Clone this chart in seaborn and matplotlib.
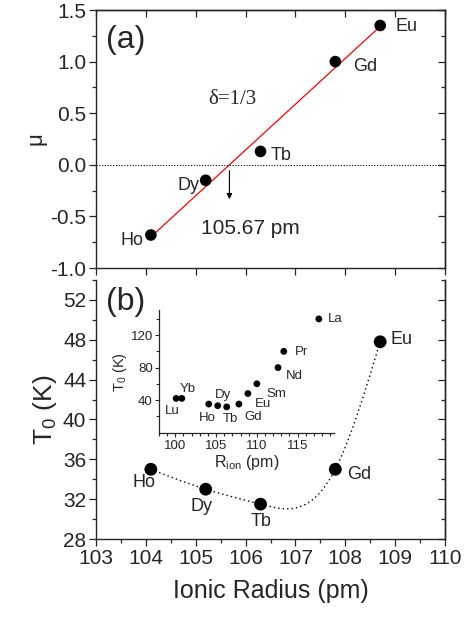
import numpy as np
import pandas as pd
import matplotlib
matplotlib.use("Agg")
import matplotlib.pyplot as plt
import seaborn as sns

# main panels: Ho, Dy, Tb, Gd, Eu
elements = ["Ho", "Dy", "Tb", "Gd", "Eu"]
radius = [104.1, 105.2, 106.3, 107.8, 108.7]
mu = [-0.68, -0.15, 0.13, 1.0, 1.35]
t0 = [35.0, 33.0, 31.5, 35.0, 47.8]
crossing_label = "105.67 pm"

# inset: wider series of rare earths
inset_elements = ["Lu", "Yb", "Ho", "Dy", "Tb", "Gd", "Eu", "Sm", "Nd", "Pr", "La"]
inset_radius = [100.1, 100.8, 104.1, 105.2, 106.3, 107.8, 108.9, 110.0, 112.6, 113.3, 117.6]
inset_t0 = [42, 42, 35, 33, 31.5, 35, 48, 60, 80, 100, 140]


def natural_spline(x, y, n=300):
    """Natural cubic spline through the points, used only for the guide line."""
    x = np.asarray(x, float)
    y = np.asarray(y, float)
    k = len(x)
    h = np.diff(x)
    A = np.zeros((k, k))
    b = np.zeros(k)
    A[0, 0] = A[-1, -1] = 1
    for i in range(1, k - 1):
        A[i, i - 1] = h[i - 1]
        A[i, i] = 2 * (h[i - 1] + h[i])
        A[i, i + 1] = h[i]
        b[i] = 3 * ((y[i + 1] - y[i]) / h[i] - (y[i] - y[i - 1]) / h[i - 1])
    c = np.linalg.solve(A, b)
    xs = np.linspace(x[0], x[-1], n)
    idx = np.clip(np.searchsorted(x, xs) - 1, 0, k - 2)
    dx = xs - x[idx]
    bb = (y[idx + 1] - y[idx]) / h[idx] - h[idx] * (2 * c[idx] + c[idx + 1]) / 3
    dd = (c[idx + 1] - c[idx]) / (3 * h[idx])
    ys = y[idx] + bb * dx + c[idx] * dx ** 2 + dd * dx ** 3
    return xs, ys


sns.set_style("ticks")
plt.rcParams["font.family"] = ["Liberation Sans", "DejaVu Sans"]
plt.rcParams["mathtext.default"] = "regular"

df = pd.DataFrame({"el": elements, "r": radius, "mu": mu, "t0": t0})
df_in = pd.DataFrame({"el": inset_elements, "r": inset_radius, "t0": inset_t0})

fig = plt.figure(figsize=(4.72, 6.18), dpi=100)
ax1 = fig.add_axes([0.2034, 0.5663, 0.7394, 0.4175])
ax2 = fig.add_axes([0.2034, 0.1278, 0.7394, 0.4191])
axi = fig.add_axes([0.3369, 0.2989, 0.3714, 0.1995])

# ---- panel (a)
slope, icpt = np.polyfit(df["r"], df["mu"], 1)
x0 = -icpt / slope
fit = pd.DataFrame({"r": [df["r"].min(), df["r"].max()]})
fit["mu"] = slope * fit["r"] + icpt
ax1.axhline(0, color="black", lw=0.8, ls=(0, (1, 1.5)))
sns.lineplot(data=fit, x="r", y="mu", ax=ax1, color="red", lw=0.9)
sns.scatterplot(data=df, x="r", y="mu", ax=ax1, color="black", s=70, edgecolor="none", zorder=3)
ax1.annotate("", xy=(x0, -0.36), xytext=(x0, -0.03),
             arrowprops=dict(arrowstyle="-|>", color="black", lw=0.8, mutation_scale=8))

fs = 13
ax1.text(109.0, 1.34, "Eu", fontsize=fs, va="center")
ax1.text(108.16, 0.95, "Gd", fontsize=fs, va="center")
ax1.text(106.5, 0.095, "Tb", fontsize=fs, va="center")
ax1.text(105.07, -0.196, "Dy", fontsize=fs, va="center", ha="right")
ax1.text(103.96, -0.73, "Ho", fontsize=fs, va="center", ha="right")
ax1.text(105.1, -0.615, crossing_label, fontsize=15, va="center")
ax1.text(105.25, 0.635, "δ=1/3", fontsize=15, va="center", family=["Liberation Serif", "DejaVu Serif"])
ax1.text(103.2, 1.21, "(a)", fontsize=23, va="center")

ax1.set_xlim(103, 110)
ax1.set_ylim(-1.0, 1.5)
ax1.set_xticks(np.arange(103, 111, 1))
ax1.set_xticklabels([])
ax1.set_yticks(np.arange(-1.0, 1.51, 0.5))
ax1.set_yticklabels([f"{v:.1f}" for v in np.arange(-1.0, 1.51, 0.5)])
ax1.set_yticks(np.arange(-1.0, 1.51, 0.25), minor=True)
ax1.set_xlabel("")
ax1.set_ylabel("μ", fontsize=16, labelpad=3)

# ---- panel (b)
xs, ys = natural_spline(df["r"], df["t0"])
curve = pd.DataFrame({"r": xs, "t0": ys})
sns.lineplot(data=curve, x="r", y="t0", ax=ax2, color="black", lw=1.0, ls=(0, (1, 2.2)))
sns.scatterplot(data=df, x="r", y="t0", ax=ax2, color="black", s=85, edgecolor="none", zorder=3)
ax2.text(103.97, 33.64, "Ho", fontsize=fs, va="center", ha="center")
ax2.text(105.12, 31.24, "Dy", fontsize=fs, va="center", ha="center")
ax2.text(106.32, 29.73, "Tb", fontsize=fs, va="center", ha="center")
ax2.text(108.03, 34.5, "Gd", fontsize=fs, va="center")
ax2.text(108.91, 48.0, "Eu", fontsize=fs, va="center")
ax2.text(103.2, 51.8, "(b)", fontsize=23, va="center")

ax2.set_xlim(103, 110)
ax2.set_ylim(28, 54)
ax2.set_xticks(np.arange(103, 111, 1))
ax2.set_xticks(np.arange(103, 110.01, 0.5), minor=True)
ax2.set_yticks(np.arange(28, 53, 4))
ax2.set_yticks(np.arange(28, 54.01, 2), minor=True)
ax2.set_xlabel("Ionic Radius (pm)", fontsize=18, labelpad=8)
ax2.set_ylabel("T$_0$ (K)", fontsize=19, labelpad=3)
ax2.spines["top"].set_visible(False)

for ax in (ax1, ax2):
    ax.tick_params(which="major", direction="out", length=5, width=0.9, labelsize=15, pad=2)
    ax.tick_params(which="minor", direction="out", length=3, width=0.9)
    for s in ax.spines.values():
        s.set_linewidth(1.0)
    # right side ticks point inward
    sec = ax.secondary_yaxis("right")
    sec.set_yticks(ax.get_yticks())
    sec.set_yticks(ax.get_yticks(minor=True), minor=True)
    sec.tick_params(which="major", direction="in", length=5, width=0.9, labelright=False)
    sec.tick_params(which="minor", direction="in", length=3, width=0.9)
    sec.spines["right"].set_linewidth(1.0)

top = ax1.secondary_xaxis("top")
top.set_xticks(ax1.get_xticks())
top.tick_params(which="major", direction="in", length=5, width=0.9, labeltop=False)
top.spines["top"].set_linewidth(1.0)

# ---- inset
sns.scatterplot(data=df_in, x="r", y="t0", ax=axi, color="black", s=24, edgecolor="none")
ifs = 9.5
inset_pos = {
    "Lu": (99.6, 27, "center"), "Yb": (101.5, 53.5, "center"), "Ho": (103.9, 18.2, "center"),
    "Dy": (105.8, 46, "center"), "Tb": (106.8, 16.2, "center"), "Gd": (109.6, 19.0, "center"),
    "Eu": (110.7, 35.5, "center"), "Sm": (112.4, 47, "center"), "Nd": (113.6, 70, "left"),
    "Pr": (114.7, 98.7, "left"), "La": (118.7, 140, "left"),
}
for el in inset_elements:
    x, y, ha = inset_pos[el]
    axi.text(x, y, el, fontsize=ifs, va="center", ha=ha)
axi.set_xlim(98, 119.5)
axi.set_ylim(-1, 151)
axi.set_xticks([100, 105, 110, 115])
axi.set_xticks(np.arange(98, 119.6, 1), minor=True)
axi.set_yticks([40, 80, 120])
axi.set_yticks(np.arange(20, 151, 20), minor=True)
axi.tick_params(which="major", direction="out", length=3, width=0.8, labelsize=9.5, pad=1.5)
axi.tick_params(which="minor", direction="out", length=2, width=0.8)
axi.set_xlabel("R$_{ion}$ (pm)", fontsize=11.5, labelpad=1)
axi.set_ylabel("T$_0$ (K)", fontsize=10.5, labelpad=1)
axi.patch.set_alpha(0)
sns.despine(ax=axi)
for s in ("left", "bottom"):
    axi.spines[s].set_linewidth(0.9)

fig.savefig("out.png", dpi=100)
